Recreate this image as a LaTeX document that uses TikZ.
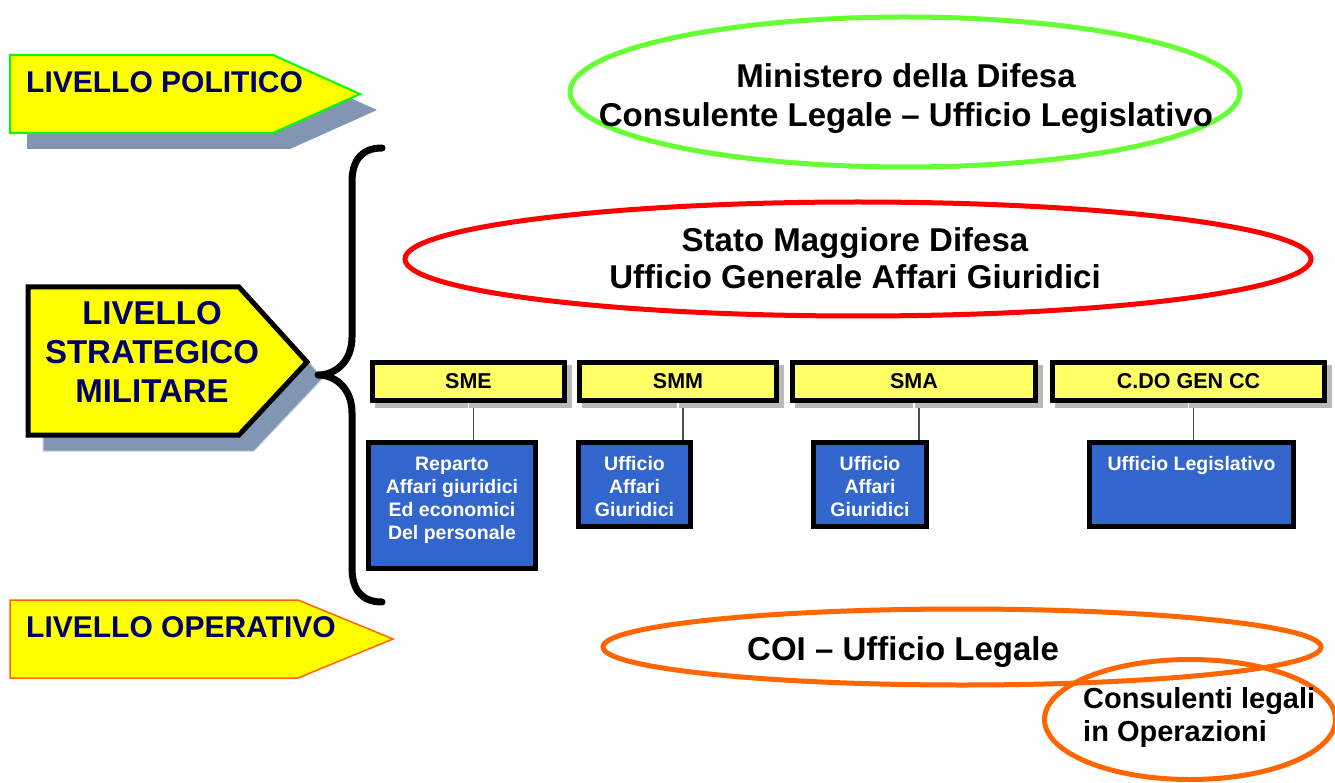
\documentclass[tikz,border=0pt]{standalone}
\usepackage{fontspec}
\setmainfont{Liberation Sans}
\usetikzlibrary{calc,shapes.geometric,backgrounds}
\definecolor{arryel}{HTML}{FFFF00}
\definecolor{hdryel}{HTML}{FFFF66}
\definecolor{boxblue}{HTML}{3366CC}
\definecolor{navytxt}{HTML}{000066}
\definecolor{slateshadow}{RGB}{128,150,178}
\definecolor{ellgreen}{HTML}{66FF33}
\definecolor{ellred}{HTML}{FF0000}
\definecolor{ellorange}{HTML}{FF6600}
\definecolor{arrgreen}{HTML}{00FF00}
\tikzset{
  arrtxt/.style={inner sep=0pt, font=\fontsize{30}{36}\selectfont\bfseries, text=navytxt},
  strtxt/.style={inner sep=0pt, font=\fontsize{33}{38}\selectfont\bfseries, text=navytxt},
  bigtxt/.style={inner sep=0pt, font=\fontsize{33}{39}\selectfont\bfseries, text=black},
  midtxt/.style={inner sep=0pt, font=\fontsize{29}{33}\selectfont\bfseries, text=black},
  hdrbox/.style={rectangle, draw=black, line width=5pt, fill=hdryel, inner sep=0pt,
     minimum height=38pt, font=\fontsize{21.5}{25}\selectfont\bfseries},
  hdrshadow/.style={fill=gray!55},
  bluebox/.style={rectangle, draw=black, line width=5pt, fill=boxblue, inner sep=0pt},
  bluetxt/.style={inner sep=0pt, font=\fontsize{19.5}{23}\selectfont\bfseries, text=white},
  conn/.style={draw=gray!60!black, line width=1.8pt},
  conntick/.style={draw=white, line width=1.6pt},
  oval/.style={ellipse, inner sep=0pt, line width=5pt},
  arrshadow/.style={fill=slateshadow},
}
\begin{document}
\begin{tikzpicture}[x=1pt,y=-1pt]
\useasboundingbox (0,0) rectangle (1335,783);
\clip (0,0) rectangle (1335,783);

% ---------- level arrows ----------
\fill[arrshadow] (27,71) -- (290,71) -- (377,110) -- (290,149) -- (27,149) -- cycle;
\filldraw[fill=arryel, draw=arrgreen, line width=2pt] (10,55) -- (273,55) -- (360,94) -- (273,133) -- (10,133) -- cycle;
\node[arrtxt, anchor=base west] (pol) at (26,93) {LIVELLO POLITICO};

\filldraw[arrshadow, draw=white!55!slateshadow, line width=1pt] (43,302) -- (254,302) -- (323,378) -- (254,451) -- (43,451) -- cycle;
\filldraw[fill=arryel, draw=black, line width=5pt] (28,287) -- (239,287) -- (307,362) -- (239,435) -- (28,435) -- cycle;
\node[strtxt, anchor=base] (str1) at (152,325) {LIVELLO};
\node[strtxt, anchor=base] (str2) at (152,363.5) {STRATEGICO};
\node[strtxt, anchor=base] (str3) at (152,402) {MILITARE};

\filldraw[fill=arryel, draw=ellorange, line width=1.5pt] (10,600) -- (298,600) -- (393,639) -- (298,678) -- (10,678) -- cycle;
\node[arrtxt, anchor=base west] (ope) at (26,637) {LIVELLO OPERATIVO};

% ---------- brace ----------
\draw[line width=7pt, line cap=round, line join=round]
  (382,148) .. controls (362,148) and (352,160) .. (352,182)
  -- (352,337) .. controls (352,362) and (335,375) .. (318,375)
  .. controls (335,375) and (352,388) .. (352,413)
  -- (352,568) .. controls (352,590) and (362,602) .. (382,602);

% ---------- ellipses ----------
\node[oval, draw=ellgreen, minimum width=670pt, minimum height=150pt] (ming) at (905,92) {};
\node[bigtxt, anchor=base] (min1) at (906,88) {Ministero della Difesa};
\node[bigtxt, anchor=base] (min2) at (906,127) {Consulente Legale – Ufficio Legislativo};

\node[oval, draw=ellred, minimum width=906pt, minimum height=114pt] (smdr) at (858,259) {};
\node[bigtxt, anchor=base] (smd1) at (855,252) {Stato Maggiore Difesa};
\node[bigtxt, anchor=base] (smd2) at (855,289) {Ufficio Generale Affari Giuridici};

\node[oval, draw=ellorange, minimum width=718pt, minimum height=76pt] (coio) at (962,647) {};
\node[oval, draw=ellorange, minimum width=291pt, minimum height=120pt] (conso) at (1190,719.5) {};
\node[bigtxt, anchor=base west] (coi) at (747,660) {COI – Ufficio Legale};
\node[midtxt, anchor=base west] (cons1) at (1083,708) {Consulenti legali};
\node[midtxt, anchor=base west] (cons2) at (1083,741) {in Operazioni};

% ---------- header boxes ----------
\node[hdrbox, minimum width=192pt] (sme) at (468.5,381.5) {SME};
\node[hdrbox, minimum width=197pt] (smm) at (678,381.5) {SMM};
\node[hdrbox, minimum width=243pt] (sma) at (914,381.5) {SMA};
\node[hdrbox, minimum width=272pt] (cdo) at (1188.5,381.5) {C.DO GEN CC};

% ---------- blue boxes ----------
\node[bluebox, minimum width=167pt, minimum height=126pt] (smeb) at (452,505.5) {};
\node[bluebox, minimum width=112pt, minimum height=84pt] (smmb) at (634.5,484.5) {};
\node[bluebox, minimum width=113pt, minimum height=84pt] (smab) at (870,484.5) {};
\node[bluebox, minimum width=204pt, minimum height=84pt] (cdob) at (1191.5,484.5) {};

% ---------- connectors and shadows ----------
\begin{scope}[on background layer]
\foreach \h/\b in {sme/smeb, smm/smmb, sma/smab, cdo/cdob}{
  \draw[conn] ($(\h.south)+(5,0)$) -- ($(\h.south |- \b.north)+(5,0)$);
  \fill[hdrshadow] ($(\h.north west)+(5,5)$) rectangle ($(\h.south east)+(5,5)$);
}
\end{scope}
\foreach \h in {sme, smm, sma, cdo}{
  \draw[conntick] (\h.south) -- ++(0,5);
}

% ---------- blue box texts ----------
\node[bluetxt, anchor=base] (t1a) at (452,470.5) {Reparto};
\node[bluetxt, anchor=base] (t1b) at (452,493.5) {Affari giuridici};
\node[bluetxt, anchor=base] (t1c) at (452,516.5) {Ed economici};
\node[bluetxt, anchor=base] (t1d) at (452,539.5) {Del personale};

\node[bluetxt, anchor=base] (t2a) at (634.5,470.5) {Ufficio};
\node[bluetxt, anchor=base] (t2b) at (634.5,493.5) {Affari};
\node[bluetxt, anchor=base] (t2c) at (634.5,516.5) {Giuridici};

\node[bluetxt, anchor=base] (t3a) at (870,470.5) {Ufficio};
\node[bluetxt, anchor=base] (t3b) at (870,493.5) {Affari};
\node[bluetxt, anchor=base] (t3c) at (870,516.5) {Giuridici};

\node[bluetxt, anchor=base] (t4a) at (1191.5,470.5) {Ufficio Legislativo};
\end{tikzpicture}
\end{document}
